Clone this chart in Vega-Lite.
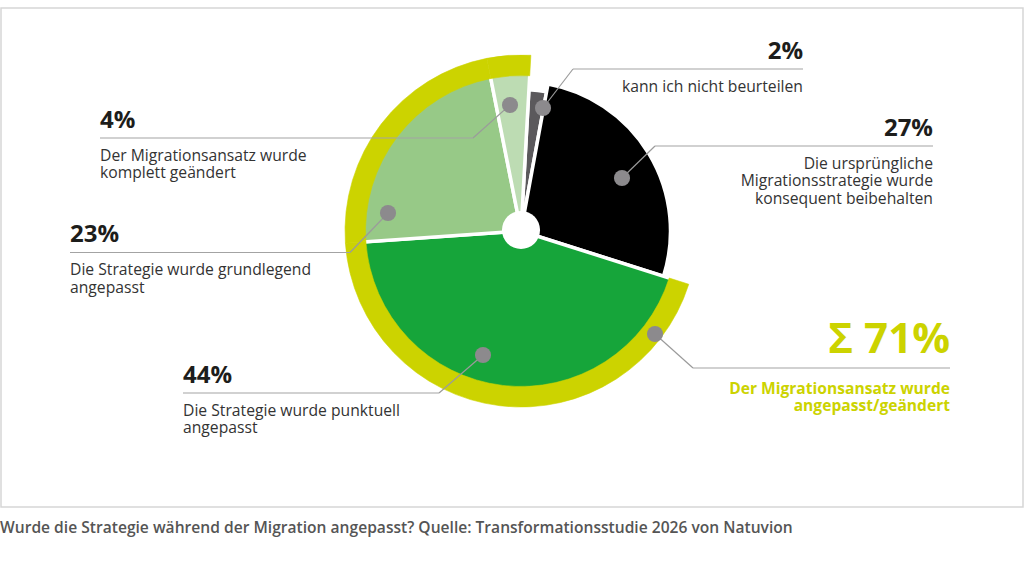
{
  "$schema": "https://vega.github.io/schema/vega-lite/v6.json",
  "width": 1024,
  "height": 561,
  "autosize": {"type": "fit", "contains": "padding"},
  "padding": 0,
  "background": "white",
  "config": {"view": {"stroke": null}, "font": "Open Sans"},
  "datasets": {
    "slices": [
      {"order": 1, "pct": 0.02, "label": "kann ich nicht beurteilen"},
      {"order": 2, "pct": 0.27, "label": "Die ursprüngliche\nMigrationsstrategie wurde\nkonsequent beibehalten"},
      {"order": 3, "pct": 0.44, "label": "Die Strategie wurde punktuell\nangepasst"},
      {"order": 4, "pct": 0.23, "label": "Die Strategie wurde grundlegend\nangepasst"},
      {"order": 5, "pct": 0.04, "label": "Der Migrationsansatz wurde\nkomplett geändert"}
    ],
    "callouts": [
      {"slice": 1, "dotX": 543, "dotY": 108, "elbowX": 573, "lineY": 69, "tipX": 803},
      {"slice": 2, "dotX": 622, "dotY": 178, "elbowX": 655, "lineY": 146, "tipX": 933},
      {"slice": 3, "dotX": 483, "dotY": 355, "elbowX": 439, "lineY": 393, "tipX": 183},
      {"slice": 4, "dotX": 388, "dotY": 213, "elbowX": 350, "lineY": 252.5, "tipX": 70},
      {"slice": 5, "dotX": 510, "dotY": 105, "elbowX": 473, "lineY": 138, "tipX": 100},
      {"slice": 0, "dotX": 655, "dotY": 334, "elbowX": 693, "lineY": 368, "tipX": 950, "headline": "Σ 71%", "label": "Der Migrationsansatz wurde\nangepasst/geändert"}
    ]
  },
  "layer": [
    {
      "data": {"values": [{}]},
      "mark": {"type": "rect", "fillOpacity": 0, "stroke": "#d6d6d6", "strokeWidth": 1.5},
      "encoding": {
        "x": {"datum": 1, "type": "quantitative", "scale": {"domain": [0, 1024], "nice": false, "zero": false}, "axis": null},
        "x2": {"datum": 1023},
        "y": {"datum": 8, "type": "quantitative", "scale": {"domain": [0, 561], "nice": false, "zero": false, "reverse": true}, "axis": null},
        "y2": {"datum": 507}
      }
    },
    {
      "data": {"name": "slices"},
      "mark": {"type": "arc", "outerRadius": 141.5, "stroke": "white", "strokeWidth": 3.5},
      "encoding": {
        "x": {"datum": 521, "type": "quantitative"},
        "y": {"datum": 231, "type": "quantitative"},
        "theta": {"field": "pct", "type": "quantitative", "stack": true, "scale": {"range": [0.056, 6.3392]}},
        "order": {"field": "order", "type": "quantitative"},
        "color": {"field": "order", "type": "nominal", "scale": {"domain": [1, 2, 3, 4, 5], "range": ["#5b595c", "#000000", "#16a53a", "#97c987", "#bddcb3"]}, "legend": null},
        "opacity": {"condition": {"test": "datum.order == 1", "value": 1}, "value": 0}
      }
    },
    {
      "data": {"name": "slices"},
      "mark": {"type": "arc", "outerRadius": 149.5, "stroke": "white", "strokeWidth": 3.5},
      "encoding": {
        "x": {"datum": 521, "type": "quantitative"},
        "y": {"datum": 231, "type": "quantitative"},
        "theta": {"field": "pct", "type": "quantitative", "stack": true, "scale": {"range": [0.056, 6.3392]}},
        "order": {"field": "order", "type": "quantitative"},
        "color": {"field": "order", "type": "nominal", "scale": {"domain": [1, 2, 3, 4, 5], "range": ["#5b595c", "#000000", "#16a53a", "#97c987", "#bddcb3"]}, "legend": null},
        "opacity": {"condition": {"test": "datum.order == 2", "value": 1}, "value": 0}
      }
    },
    {
      "data": {"name": "slices"},
      "mark": {"type": "arc", "outerRadius": 158, "stroke": "white", "strokeWidth": 3.5},
      "encoding": {
        "x": {"datum": 521, "type": "quantitative"},
        "y": {"datum": 231, "type": "quantitative"},
        "theta": {"field": "pct", "type": "quantitative", "stack": true, "scale": {"range": [0.056, 6.3392]}},
        "order": {"field": "order", "type": "quantitative"},
        "color": {"field": "order", "type": "nominal", "scale": {"domain": [1, 2, 3, 4, 5], "range": ["#5b595c", "#000000", "#16a53a", "#97c987", "#bddcb3"]}, "legend": null},
        "opacity": {"condition": {"test": "datum.order >= 3", "value": 1}, "value": 0}
      }
    },
    {
      "data": {"name": "slices"},
      "mark": {"type": "arc", "innerRadius": 155.5, "outerRadius": 176, "fill": "#ccd300", "stroke": "#ccd300", "strokeWidth": 0.6},
      "encoding": {
        "x": {"datum": 521, "type": "quantitative"},
        "y": {"datum": 231, "type": "quantitative"},
        "theta": {"field": "pct", "type": "quantitative", "stack": true, "scale": {"range": [0.056, 6.3392]}},
        "order": {"field": "order", "type": "quantitative"},
        "opacity": {"condition": {"test": "datum.order >= 3", "value": 1}, "value": 0}
      }
    },
    {
      "data": {"values": [{}]},
      "mark": {"type": "circle", "size": 1450, "color": "white", "opacity": 1},
      "encoding": {
        "x": {"datum": 521, "type": "quantitative"},
        "y": {"datum": 230, "type": "quantitative"}
      }
    },
    {
      "data": {"name": "callouts"},
      "mark": {"type": "rule", "color": "#9b9b9b", "strokeWidth": 1.2},
      "encoding": {
        "x": {"field": "dotX", "type": "quantitative"},
        "y": {"field": "dotY", "type": "quantitative"},
        "x2": {"field": "elbowX"},
        "y2": {"field": "lineY"}
      }
    },
    {
      "data": {"name": "callouts"},
      "mark": {"type": "rule", "color": "#a3a3a3", "strokeWidth": 1.2},
      "encoding": {
        "x": {"field": "elbowX", "type": "quantitative"},
        "x2": {"field": "tipX"},
        "y": {"field": "lineY", "type": "quantitative"}
      }
    },
    {
      "data": {"name": "callouts"},
      "mark": {"type": "circle", "size": 260, "color": "#8c8a8d", "opacity": 1},
      "encoding": {
        "x": {"field": "dotX", "type": "quantitative"},
        "y": {"field": "dotY", "type": "quantitative"}
      }
    },
    {
      "data": {"name": "callouts"},
      "transform": [
        {"filter": "datum.slice > 0 && datum.tipX < datum.elbowX"},
        {"lookup": "slice", "from": {"data": {"name": "slices"}, "key": "order", "fields": ["pct", "label"]}}
      ],
      "layer": [
        {
          "mark": {"type": "text", "align": "left", "baseline": "alphabetic", "dy": -10.5, "fontSize": 24, "fontWeight": "bold", "color": "#1d1d1b"},
          "encoding": {
            "x": {"field": "tipX", "type": "quantitative"},
            "y": {"field": "lineY", "type": "quantitative"},
            "text": {"field": "pct", "type": "quantitative", "format": ".0%"}
          }
        },
        {
          "mark": {"type": "text", "align": "left", "baseline": "alphabetic", "dy": 22.5, "fontSize": 15.7, "lineHeight": 17.5, "lineBreak": "\n", "color": "#333333"},
          "encoding": {
            "x": {"field": "tipX", "type": "quantitative"},
            "y": {"field": "lineY", "type": "quantitative"},
            "text": {"field": "label", "type": "nominal"}
          }
        }
      ]
    },
    {
      "data": {"name": "callouts"},
      "transform": [
        {"filter": "datum.slice > 0 && datum.tipX > datum.elbowX"},
        {"lookup": "slice", "from": {"data": {"name": "slices"}, "key": "order", "fields": ["pct", "label"]}}
      ],
      "layer": [
        {
          "mark": {"type": "text", "align": "right", "baseline": "alphabetic", "dy": -10.5, "fontSize": 24, "fontWeight": "bold", "color": "#1d1d1b"},
          "encoding": {
            "x": {"field": "tipX", "type": "quantitative"},
            "y": {"field": "lineY", "type": "quantitative"},
            "text": {"field": "pct", "type": "quantitative", "format": ".0%"}
          }
        },
        {
          "mark": {"type": "text", "align": "right", "baseline": "alphabetic", "dy": 22.5, "fontSize": 15.7, "lineHeight": 17.5, "lineBreak": "\n", "color": "#333333"},
          "encoding": {
            "x": {"field": "tipX", "type": "quantitative"},
            "y": {"field": "lineY", "type": "quantitative"},
            "text": {"field": "label", "type": "nominal"}
          }
        }
      ]
    },
    {
      "data": {"name": "callouts"},
      "transform": [{"filter": "datum.slice == 0"}],
      "layer": [
        {
          "mark": {"type": "text", "align": "right", "baseline": "alphabetic", "dy": -15, "fontSize": 42, "fontWeight": "bold", "color": "#ccd300"},
          "encoding": {
            "x": {"field": "tipX", "type": "quantitative"},
            "y": {"field": "lineY", "type": "quantitative"},
            "text": {"field": "headline", "type": "nominal"}
          }
        },
        {
          "mark": {"type": "text", "align": "right", "baseline": "alphabetic", "dy": 26, "fontSize": 15.6, "fontWeight": "bold", "lineHeight": 17, "lineBreak": "\n", "color": "#ccd300"},
          "encoding": {
            "x": {"field": "tipX", "type": "quantitative"},
            "y": {"field": "lineY", "type": "quantitative"},
            "text": {"field": "label", "type": "nominal"}
          }
        }
      ]
    },
    {
      "data": {"values": [{"caption": "Wurde die Strategie während der Migration angepasst? Quelle: Transformationsstudie 2026 von Natuvion"}]},
      "mark": {"type": "text", "align": "left", "baseline": "alphabetic", "fontSize": 15.6, "fontWeight": 600, "color": "#555555"},
      "encoding": {
        "x": {"datum": 0, "type": "quantitative"},
        "y": {"datum": 533, "type": "quantitative"},
        "text": {"field": "caption", "type": "nominal"}
      }
    }
  ]
}
